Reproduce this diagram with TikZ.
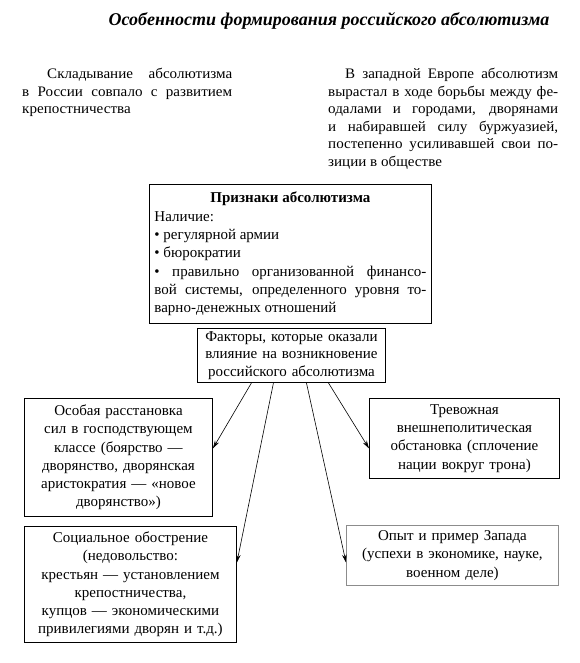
\documentclass[tikz,border=0pt]{standalone}
\usepackage{fontspec}
\setmainfont{Liberation Serif}
\newfontfamily\parafont[FakeStretch=1.04]{Liberation Serif}
\usetikzlibrary{arrows.meta,calc}
\definecolor{boxgray}{gray}{0.55}
\newcommand\jline[1]{\hbox to\hsize{\spaceskip=0pt\xspaceskip=0pt #1}}
\begin{document}
\begin{tikzpicture}[x=1pt,y=-1pt,
  box/.style={draw, line width=0.9pt, inner sep=0pt, align=center,
    font=\fontsize{15}{18.3}\selectfont, anchor=north west},
  para/.style={inner sep=0pt, align=justify, anchor=north west,
    font=\parafont\fontsize{14.5}{17.5}\selectfont},
  arr/.style={-{Stealth[length=8pt,width=4.5pt]}, line width=0.6pt}]
\useasboundingbox (0,0) rectangle (579,663);

\node[anchor=base, font=\fontsize{18}{20}\selectfont\bfseries\itshape] (title) at (329,26)
  {Особенности формирования российского абсолютизма};

\node[para, text width=210pt] (lp) at (22,68)
  {\jline{\hspace*{25pt}Складывание абсолютизма}
   \jline{в России совпало с развитием}
   \jline{крепостничества\hfil}};

\node[para, text width=230pt] (rp) at (328,68)
  {\jline{\hspace*{17pt}В западной Европе абсолютизм}
   \jline{вырастал в ходе борьбы между фе-}
   \jline{одалами и городами, дворянами}
   \jline{и набиравшей силу буржуазией,}
   \jline{постепенно усиливавшей свои по-}
   \jline{зиции в обществе\hfil}};

\node[box, align=justify, inner xsep=5pt, text width=272pt, minimum height=139pt] (p) at (149,184)
  {{\centering\bfseries Признаки абсолютизма\par}
   Наличие:\par
   \textbullet\ регулярной армии\par
   \textbullet\ бюрократии\par
   \textbullet\ правильно организованной финансо-\linebreak вой системы, определенного уровня то-\linebreak варно-денежных отношений};

\node[box, text width=188pt, minimum height=54pt, font=\fontsize{15}{17.5}\selectfont] (f) at (197,328)
  {Факторы, которые оказали\\влияние на возникновение\\российского абсолютизма};

\node[box, text width=188pt, minimum height=118pt] (l1) at (24,398)
  {Особая расстановка\\сил в господствующем\\классе (боярство —\\дворянство, дворянская\\аристократия — «новое\\дворянство»)};

\node[box, text width=190pt, minimum height=80pt] (r1) at (369,398)
  {Тревожная\\внешнеполитическая\\обстановка (сплочение\\нации вокруг трона)};

\node[box, text width=212pt, minimum height=116pt] (s) at (24,526)
  {Социальное обострение\\(недовольство:\\крестьян — установлением\\крепостничества,\\купцов — экономическими\\привилегиями дворян и т.д.)};

\node[box, draw=boxgray, text width=212pt, minimum height=60pt] (o) at (346,525)
  {Опыт и пример Запада\\(успехи в экономике, науке,\\военном деле)};

\coordinate (f1) at ($(f.south)+(-40,0)$);
\coordinate (f2) at ($(f.south)+(-18,0)$);
\coordinate (f3) at ($(f.south)+(15,0)$);
\coordinate (f4) at ($(f.south)+(37,0)$);

\draw[arr] (f1) -- ([yshift=9pt]l1.east);
\draw[arr] (f2) -- ([yshift=22pt]s.east);
\draw[arr] (f3) -- ([yshift=-7pt]o.west);
\draw[arr] (f4) -- ([yshift=-10pt]r1.west);
\end{tikzpicture}
\end{document}
